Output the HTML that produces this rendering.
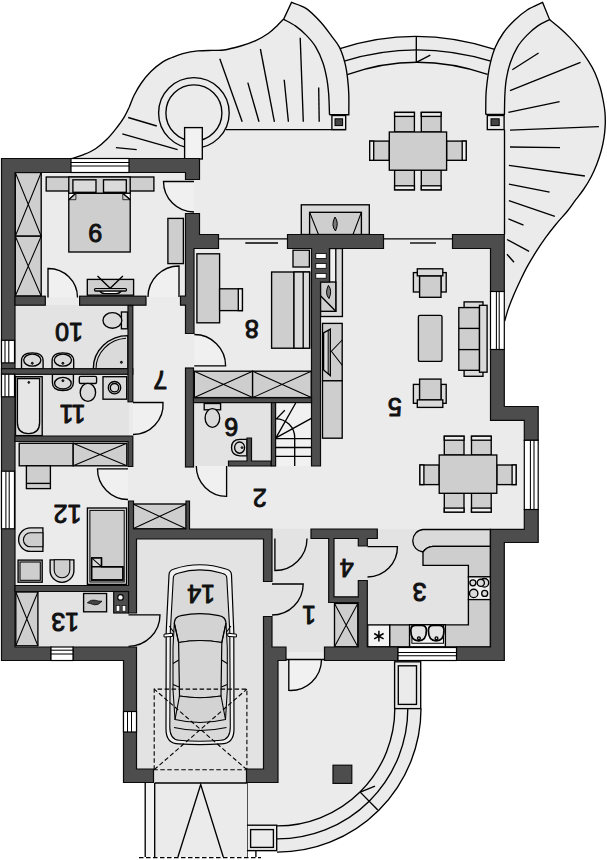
<!DOCTYPE html>
<html><head><meta charset="utf-8"><title>Floor plan</title>
<style>
html,body{margin:0;padding:0;background:#fff;font-family:"Liberation Sans",sans-serif;}
svg{display:block;font-family:"Liberation Sans",sans-serif;}
.w{fill:#4d4d4d;stroke:#0a0a0a;stroke-width:1.2;}
.f{fill:#ebebeb;stroke:none;}
.fo{fill:#ebebeb;stroke:#000;stroke-width:1.35;}
.u{fill:#cecece;stroke:#000;stroke-width:1.35;}
.v{fill:#dadada;stroke:#000;stroke-width:1.35;}
.d{fill:#444;stroke:#000;stroke-width:1;}
.l{fill:none;stroke:#000;stroke-width:1.35;}
.t{fill:none;stroke:#000;stroke-width:1.05;}
.g{fill:none;stroke:#777;stroke-width:0.8;}
.ds{fill:none;stroke:#000;stroke-width:1.1;stroke-dasharray:4.5 2.5;}
.wh{fill:#fff;stroke:#000;stroke-width:1.2;}
.wn{fill:#fff;stroke:none;}
.n{fill:#111;text-anchor:middle;font-family:"Liberation Sans",sans-serif;}

</style></head><body>
<svg width="607" height="860" viewBox="0 0 607 860">
<g id="floors">
<path class="f" d="M8,165 H192 V240 H497 V412 H531 V536 H497 V654 H330 V662 H270 V783 H130 V654 H8 Z"/>
<rect class="f" x="14" y="305" width="115" height="64.5" style="fill:#e3e3e3"/>
<rect class="f" x="14" y="373" width="115" height="64" style="fill:#e3e3e3"/>
<rect class="f" x="193" y="402" width="79" height="64" style="fill:#e3e3e3"/>
<rect class="f" x="14" y="591" width="115" height="57" style="fill:#e3e3e3"/>
<rect class="f" x="128" y="613" width="9" height="35" style="fill:#e3e3e3"/>
<rect class="f" x="136" y="538.5" width="128" height="231.5" style="fill:#e3e3e3"/>
<rect class="f" x="154" y="769" width="93" height="14" style="fill:#e3e3e3"/>
<rect class="f" x="263" y="581" width="10" height="36" style="fill:#e3e3e3"/>
<rect class="f" x="271.5" y="528.8" width="57" height="119.2" style="fill:#e3e3e3"/>
<rect class="f" x="328" y="601" width="31" height="47" style="fill:#e3e3e3"/>
<rect class="f" x="285" y="646" width="40" height="14" style="fill:#e3e3e3"/>
<rect class="f" x="333.5" y="538.5" width="25" height="58.5" style="fill:#e3e3e3"/>
<rect class="f" x="357.5" y="545.5" width="10.5" height="35.5" style="fill:#e3e3e3"/>
<rect class="f" x="366.5" y="529.3" width="124.5" height="118.7" style="fill:#e3e3e3"/>
</g>
<g id="terrace">
<path class="f" d="M72.8,158.2C74.6,157.6 79.9,156.2 83.7,154.6C87.5,153 91.6,151.3 95.6,148.7C99.5,146.1 103.8,142.4 107.4,138.8C111,135.2 114.5,130.6 117.3,127C120.1,123.4 122.2,120.4 124.2,117.1C126.2,113.8 127.5,110.8 129.2,107.2C130.8,103.6 132.1,99.2 134.1,95.3C136.1,91.3 138.2,87.5 141,83.5C143.8,79.5 147.3,75.2 150.9,71.6C154.5,68 159.3,64.2 162.8,61.9C166.3,59.5 168.7,58.9 172,57.5C175.3,56.1 178.5,54.7 182.8,53.6C187.1,52.5 192.9,51.4 197.8,50.9C202.7,50.4 207.6,50.5 212,50.4C216.4,50.2 219.2,50.7 224,50C228.8,49.3 235.4,47.5 240.7,46C246,44.5 251.1,42.8 255.7,40.7C260.3,38.6 264.9,35.7 268.5,33.2C272.1,30.7 274.6,28.1 277.1,25.7C279.6,23.3 282.6,20.1 283.7,19L291.5,2.4C294,3.4 301.5,5.3 306.4,8.6C311.2,11.9 316.4,17.4 320.6,22C324.8,26.6 328.5,31.9 331.6,36.1C334.7,40.3 338.1,45.3 339.4,47.1 L340,48.6 Q416.3,23.8 494.8,49.4 L495.4,47.1 C496.7,44.8 500.2,37.5 503.3,33C506.4,28.6 510.4,24.2 514.3,20.4C518.2,16.6 522.1,13.2 526.8,10.2C531.5,7.2 540,3.7 542.6,2.4L549.6,19.6C551.2,20.9 555.9,24.6 559.2,27.5C562.5,30.4 566,33.6 569.4,37.1C572.8,40.6 576.4,44.6 579.6,48.6C582.8,52.6 586,57.3 588.6,61.4C591.2,65.5 593.1,68.6 595,72.9C596.9,77.2 598.7,82.3 600.1,87C601.5,91.7 602.5,96.7 603.3,101C604.1,105.3 604.7,108.7 605,112.8C605.3,116.9 605.4,121.3 605.2,125.6C605,129.9 604.6,134.1 603.9,138.4C603.2,142.7 602.3,146.9 601.1,151.2C599.9,155.4 598.5,159.7 596.9,163.9C595.2,168.2 593.4,172.4 591.2,176.7C589,181 586.1,185.7 583.5,189.5C580.9,193.3 578.5,196.1 575.8,199.7C573.1,203.3 570.8,206.9 567.5,211C564.2,215.1 559.7,219.7 556,224.2C552.3,228.7 548.7,233.3 545.4,237.8C542.1,242.3 539.3,246.6 536.3,251.4C533.3,256.2 530,261.6 527.2,266.6C524.4,271.7 522,276.9 519.7,281.7C517.4,286.5 515.5,290.8 513.6,295.3C511.7,299.8 509.8,304.6 508.3,308.9C506.8,313.2 505.3,319 504.7,321L490,321 L490,240 L192,240 L192,158.3 Z"/>
<path class="l" d="M72.8,158.2C74.6,157.6 79.9,156.2 83.7,154.6C87.5,153 91.6,151.3 95.6,148.7C99.5,146.1 103.8,142.4 107.4,138.8C111,135.2 114.5,130.6 117.3,127C120.1,123.4 122.2,120.4 124.2,117.1C126.2,113.8 127.5,110.8 129.2,107.2C130.8,103.6 132.1,99.2 134.1,95.3C136.1,91.3 138.2,87.5 141,83.5C143.8,79.5 147.3,75.2 150.9,71.6C154.5,68 159.3,64.2 162.8,61.9C166.3,59.5 168.7,58.9 172,57.5C175.3,56.1 178.5,54.7 182.8,53.6C187.1,52.5 192.9,51.4 197.8,50.9C202.7,50.4 207.6,50.5 212,50.4C216.4,50.2 219.2,50.7 224,50C228.8,49.3 235.4,47.5 240.7,46C246,44.5 251.1,42.8 255.7,40.7C260.3,38.6 264.9,35.7 268.5,33.2C272.1,30.7 274.6,28.1 277.1,25.7C279.6,23.3 282.6,20.1 283.7,19L291.5,2.4C294,3.4 301.5,5.3 306.4,8.6C311.2,11.9 316.4,17.4 320.6,22C324.8,26.6 328.5,31.9 331.6,36.1C334.7,40.3 337.2,42.7 339.4,47.1C341.6,51.5 343.5,57.5 344.9,62.8C346.3,68 347,73.3 347.6,78.6C348.2,83.8 348.6,88.3 348.8,94.3C349,100.3 348.8,111.3 348.8,114.7L329.5,114.7"/>
<path class="l" d="M283.7,19.4C285.6,20.5 291.6,23.2 295.4,25.9C299.2,28.6 303,31.9 306.4,35.4C309.8,38.9 313.1,42.5 315.8,47.1C318.6,51.7 321.1,57.5 322.9,62.8C324.7,68 325.8,73.3 326.8,78.6C327.8,83.8 328.2,88.3 328.7,94.3C329.1,100.3 329.4,111.3 329.5,114.7"/>
<path class="l" d="M485.7,114.4C485.8,111.1 485.7,100.3 486,94.3C486.3,88.3 486.9,83.8 487.6,78.6C488.3,73.3 489.1,68 490.4,62.8C491.7,57.5 493.2,52.1 495.4,47.1C497.5,42.1 500.2,37.5 503.3,33C506.4,28.6 510.4,24.2 514.3,20.4C518.2,16.6 522.1,13.2 526.8,10.2C531.5,7.2 540,3.7 542.6,2.4L549.6,19.6C547.6,20.7 541.6,23.3 537.8,25.9C534,28.5 530.2,31.9 526.8,35.4C523.4,38.9 520.1,42.5 517.4,47.1C514.6,51.7 512.1,57.5 510.3,62.8C508.5,68 507.3,73.3 506.4,78.6C505.5,83.8 505.2,88.3 504.9,94.3C504.6,100.3 504.5,111.1 504.4,114.4L485.7,114.4"/>
<path class="l" d="M549.6,19.6C551.2,20.9 555.9,24.6 559.2,27.5C562.5,30.4 566,33.6 569.4,37.1C572.8,40.6 576.4,44.6 579.6,48.6C582.8,52.6 586,57.3 588.6,61.4C591.2,65.5 593.1,68.6 595,72.9C596.9,77.2 598.7,82.3 600.1,87C601.5,91.7 602.5,96.7 603.3,101C604.1,105.3 604.7,108.7 605,112.8C605.3,116.9 605.4,121.3 605.2,125.6C605,129.9 604.6,134.1 603.9,138.4C603.2,142.7 602.3,146.9 601.1,151.2C599.9,155.4 598.5,159.7 596.9,163.9C595.2,168.2 593.4,172.4 591.2,176.7C589,181 586.1,185.7 583.5,189.5C580.9,193.3 578.5,196.1 575.8,199.7C573.1,203.3 570.8,206.9 567.5,211C564.2,215.1 559.7,219.7 556,224.2C552.3,228.7 548.7,233.3 545.4,237.8C542.1,242.3 539.3,246.6 536.3,251.4C533.3,256.2 530,261.6 527.2,266.6C524.4,271.7 522,276.9 519.7,281.7C517.4,286.5 515.5,290.8 513.6,295.3C511.7,299.8 509.8,304.6 508.3,308.9C506.8,313.2 505.3,319 504.7,321"/>
<path class="l" d="M340,48.6 Q416.3,23.8 494.8,49.4"/>
<path class="l" d="M344.2,61.2 Q416.3,38.6 490.8,61.2"/>
<path class="l" d="M347.2,74.6 Q416.3,49.9 487.6,74.4"/>
<line class="l" x1="416.3" y1="36.4" x2="416.3" y2="62.2"/>
<line class="l" x1="416.8" y1="62.2" x2="430.3" y2="55.2"/>
<rect class="fo" x="331.9" y="115.5" width="13.8" height="14.1"/>
<rect class="fo" x="487.3" y="115.5" width="16.8" height="14.1"/>
<rect class="d" x="335" y="118.8" width="7.6" height="6.8"/>
<rect class="d" x="491" y="118.8" width="8.2" height="6.8"/>
<line class="l" x1="226" y1="129.6" x2="345.7" y2="129.6"/>
<line class="l" x1="504.5" y1="129.6" x2="504.5" y2="234.5"/>
<line class="l" x1="219.8" y1="58.8" x2="242.2" y2="121.8"/>
<line class="l" x1="247.8" y1="82.6" x2="259" y2="121.8"/>
<line class="l" x1="260.4" y1="49" x2="274.4" y2="121.8"/>
<line class="l" x1="284.2" y1="79.8" x2="288.4" y2="121.8"/>
<line class="l" x1="300.2" y1="37.8" x2="303.3" y2="121.8"/>
<line class="l" x1="318.7" y1="87.4" x2="319.2" y2="121.8"/>
<line class="l" x1="128.2" y1="117.5" x2="156.8" y2="126"/>
<line class="l" x1="122.3" y1="133.9" x2="177.6" y2="149.7"/>
<line class="l" x1="115.9" y1="147.7" x2="136.7" y2="149.7"/>
<line class="l" x1="512.3" y1="69.8" x2="538.6" y2="53"/>
<line class="l" x1="510" y1="90.7" x2="580.5" y2="62.3"/>
<line class="l" x1="508.4" y1="112.3" x2="559.6" y2="101.6"/>
<line class="l" x1="510" y1="130.2" x2="598.9" y2="126.7"/>
<line class="l" x1="510" y1="147" x2="560" y2="147.7"/>
<line class="l" x1="508.9" y1="165.4" x2="584.9" y2="176"/>
<line class="l" x1="508.9" y1="184.1" x2="549.6" y2="192.2"/>
<line class="l" x1="508.9" y1="200.7" x2="554.9" y2="216.3"/>
<line class="l" x1="508.4" y1="218.8" x2="523.5" y2="225.1"/>
<line class="l" x1="507" y1="239.5" x2="529.1" y2="251.4"/>
<line class="l" x1="507" y1="254.2" x2="514" y2="262.3"/>
<circle class="l" cx="193.9" cy="112.9" r="35.3"/>
<circle class="l" cx="193.9" cy="112.9" r="28"/>
<rect class="fo" x="184.6" y="127.6" width="17.7" height="31.4" style="fill:#f2f2f2"/>
</g>
<g id="porch">
<path class="f" d="M278,652 H420.7 V708.6 A143.5,143.5 0 0 1 277.5,852.1 H247 V783 H278 Z"/>
<path class="l" d="M394.8,708.6 A117.3,117.3 0 0 1 277,825.9"/>
<path class="l" d="M407.8,708.6 A130.3,130.3 0 0 1 277,838.9"/>
<path class="l" d="M421,708.6 A143.5,143.5 0 0 1 277,852.1"/>
<rect class="fo" x="394.6" y="661.8" width="26.1" height="46.8"/>
<rect class="fo" x="398.3" y="665.8" width="18.2" height="38.6"/>
<line class="l" x1="360.2" y1="792.1" x2="377.8" y2="810"/>
<line class="l" x1="360.2" y1="792.1" x2="375" y2="786.2"/>
<rect class="w" x="333" y="765.2" width="18.8" height="18.2"/>
<path class="f" d="M288.8,660 V690.4 A31,31 0 0 0 321.5,660" style="fill:#f1f1f1"/>
<path class="l" d="M288.8,660 V690.4 A31,31 0 0 0 321.5,660"/>
<line class="l" x1="286" y1="659.5" x2="324.5" y2="659.5"/>
<line class="l" x1="247" y1="783" x2="247" y2="857"/>
<rect class="fo" x="247" y="825.2" width="29.7" height="25.4"/>
<rect class="fo" x="250.6" y="829.6" width="22.8" height="17.8"/>
<line class="l" x1="255.9" y1="850.6" x2="255.9" y2="857"/>
</g>
<g id="drive">
<rect class="f" x="145.2" y="783" width="9.5" height="74" style="fill:#f3f3f3"/>
<rect class="f" x="154.7" y="783" width="92.3" height="74"/>
<line class="l" x1="145.2" y1="783" x2="145.2" y2="857"/>
<line class="l" x1="154.7" y1="783" x2="154.7" y2="857"/>
<line class="l" x1="154.7" y1="783" x2="247" y2="783"/>
<path class="l" d="M177.9,857 L200.7,784.5 L223.3,857"/>
<path class="ds" d="M139,857.6 H261"/>
<path class="u" d="M169,575 Q169,570.5 174,569 Q199.8,560.5 226,569 Q231.5,570.5 231.5,575 L233.8,632 L234,729 Q234,743.9 221,743.9 Q199.8,745.5 179,743.9 Q166,743.9 166,729 L166.2,632 Z" style="fill:#f0f0f0;stroke-width:1.2"/>
<path class="u" d="M173.3,578 Q173.3,574.5 178,573.3 Q199.8,566.5 222,573.3 Q226.8,574.5 226.8,578 L229.8,632 L230.3,727 Q230.3,739.5 221,740.3 Q199.8,742.3 179,740.3 Q169.8,739.5 169.8,727 L170.3,632 Z" style="fill:#d9d9d9;stroke-width:1.1"/>
<path class="u" d="M174.3,623 Q174.6,616.6 181,615.6 Q199.8,611.6 219,615.6 Q225.6,616.6 226,623 L221.8,642.5 Q199.8,638.5 178.6,642.5 Z" style="fill:#d3d3d3;stroke-width:1.2"/>
<path class="u" d="M178.6,642.5 Q199.8,638.5 221.8,642.5 L221,696 Q199.8,699.5 179.5,696 Z" style="fill:#d6d6d6;stroke-width:1.2"/>
<path class="u" d="M179.5,696 Q199.8,699.5 221,696 L225.5,719.5 Q199.8,725.5 175,719.5 Z" style="fill:#d3d3d3;stroke-width:1.1"/>
<path class="t" d="M174,727.5 Q199.8,733.5 226.5,727.5"/>
<path class="t" d="M174.3,623 L178.6,642.5 M226,623 L221.8,642.5 M175,719.5 L173,690 L173,648 L174.3,623 M225.5,719.5 L227.3,690 L227.3,648 L226,623"/>
<path class="t" d="M173,663.5 L178.8,660 M227.3,663.5 L221.6,660 M173,684.5 L179,687 M227.3,684.5 L221.3,687"/>
<path class="t" d="M169.3,626 L173.6,632 M230.9,626 L226.6,632"/>
<path class="wh" d="M172.5,633.2 L164,634.2 L164,637 L172.5,636.4 Z M227.8,633.2 L236.4,634.2 L236.4,637 L227.8,636.4 Z" style="stroke-width:1"/>
<path class="ds" d="M154.2,769.7 V689.1 H246.9 V769.7 Z"/>
<path class="ds" d="M154.2,769.7 L246.9,689.1 M246.9,769.7 L154.2,689.1"/>
</g>
<g id="furn">
<rect class="u" x="15.3" y="172.5" width="25.9" height="63.7"/>
<path class="t" d="M15.3,172.5 L41.2,236.2 M41.2,172.5 L15.3,236.2"/>
<rect class="u" x="15.3" y="236.2" width="25.9" height="59.8"/>
<path class="t" d="M15.3,236.2 L41.2,296 M41.2,236.2 L15.3,296"/>
<rect class="u" x="46.2" y="177" width="107.7" height="14"/>
<rect class="u" x="68.8" y="191" width="61.4" height="61"/>
<path class="wh" d="M68.8,193.2 H130.2 V199.7 L122.8,193.2 H75.9 L68.8,199.7 Z" style="stroke-width:0.8"/>
<path class="u" d="M68.8,199.7 L75.9,193.2 V199.7 Z M130.2,199.7 L122.8,193.2 V199.7 Z" style="stroke-width:0.8"/>
<path class="l" d="M68.8,199.7 L75.9,193.2 H122.8 L130.2,199.7"/>
<rect class="u" x="68.8" y="177" width="61.4" height="16.2"/>
<rect class="v" x="72.9" y="179.8" width="23.1" height="12.5"/>
<rect class="v" x="103.5" y="179.8" width="22.8" height="12.5"/>
<rect class="u" x="167.9" y="218.4" width="15.5" height="45.2"/>
<rect class="u" x="87.3" y="279.4" width="46.3" height="15.8"/>
<path class="l" d="M97.5,276 L110.2,288.3 L122.9,276"/>
<path class="wh" d="M95.5,288.6 H125.5 Q126.5,288.6 126.5,289.8 Q126.5,291 125.5,291 H121.5 Q119.5,293.6 116,293.6 H105 Q101.5,293.6 99.5,291 H95.5 Q94.5,291 94.5,289.8 Q94.5,288.6 95.5,288.6 Z M99.5,291 H121.5" style="stroke-width:1.3"/>
<path class="f" d="M48,297.5 L48,268.5 A29,29 0 0 1 77.5,297.5 Z" style="fill:#f0f0f0"/>
<path class="l" d="M48,297.5 L48,268.5 A29,29 0 0 1 77.5,297.5"/>
<path class="f" d="M179,297 L179,266 A31,31 0 0 0 148,297 Z" style="fill:#f0f0f0"/>
<path class="l" d="M179,297 L179,266 A31,31 0 0 0 148,297"/>
<path class="f" d="M194,181.5 L163.5,181.5 A30.5,30.5 0 0 0 194,212 Z" style="fill:#f0f0f0"/>
<path class="l" d="M194,181.5 L163.5,181.5 A30.5,30.5 0 0 0 194,212"/>
<rect class="v" x="121.4" y="312" width="6.1" height="16.8"/>
<ellipse class="v" cx="112.4" cy="320.4" rx="9.4" ry="7.8"/>
<path class="v" d="M93.3,368.7 A34.6,33 0 0 1 127.9,335.6 V368.7 Z"/>
<path class="t" d="M96,368.7 A32,30.5 0 0 1 126,338.2"/>
<circle class="d" cx="121.4" cy="362.3" r="1"/>
<path class="v" d="M21.5,368.9 V360.9 Q21.5,352.9 32.3,352.9 Q43.1,352.9 43.1,360.9 V368.9 Z"/>
<ellipse class="l" cx="32.3" cy="360.1" rx="8.6" ry="6"/>
<circle class="d" cx="32.3" cy="363.3" r="1"/>
<path class="v" d="M52.1,368.9 V360.9 Q52.1,352.9 62.9,352.9 Q73.7,352.9 73.7,360.9 V368.9 Z"/>
<ellipse class="l" cx="62.9" cy="360.1" rx="8.6" ry="6"/>
<circle class="d" cx="62.9" cy="363.3" r="1"/>
<path class="v" d="M52.4,374.2 V382.5 Q52.4,390.5 62.9,390.5 Q73.4,390.5 73.4,382.5 V374.2 Z"/>
<ellipse class="l" cx="62.9" cy="383.2" rx="8.3" ry="5.8"/>
<circle class="d" cx="62.9" cy="380.7" r="1"/>
<rect class="v" x="79.3" y="376.4" width="17.3" height="7.1" rx="1.5"/>
<ellipse class="v" cx="87.9" cy="392.4" rx="7.7" ry="9"/>
<rect class="v" x="103" y="376.7" width="23.7" height="22.5"/>
<circle class="v" cx="114.5" cy="387.7" r="6.2"/>
<circle class="l" cx="114.5" cy="387.7" r="4.2"/>
<rect class="v" x="15.5" y="376.7" width="26.7" height="58.9"/>
<path class="v" d="M17.4,378.5 H39.6 V422.5 Q39.6,433.6 28.5,433.6 Q17.4,433.6 17.4,422.5 Z" style="fill:#e6e6e6"/>
<circle class="d" cx="28.8" cy="382.4" r="0.9"/>
<path class="f" d="M133,402.5 L163,402.5 A30,30 0 0 1 133,434.5 Z" style="fill:#f0f0f0"/>
<path class="l" d="M133,402.5 L163,402.5 A30,30 0 0 1 133,434.5"/>
<rect class="u" x="19.2" y="443.3" width="54" height="22.5"/>
<rect class="u" x="73.2" y="443.3" width="53.6" height="22.5"/>
<path class="t" d="M73.2,443.3 L126.8,465.8 M126.8,443.3 L73.2,465.8"/>
<rect class="u" x="26.4" y="465.8" width="24" height="22.8"/>
<line class="l" x1="26.4" y1="483.4" x2="50.4" y2="483.4"/>
<path class="f" d="M128,468.8 L97.5,468.8 A30.5,30.5 0 0 0 128,499.5 Z" style="fill:#f0f0f0"/>
<path class="l" d="M128,468.8 L97.5,468.8 A30.5,30.5 0 0 0 128,499.5"/>
<rect class="u" x="133" y="504" width="53.2" height="24.8"/>
<path class="t" d="M133,504 L186.2,528.8 M186.2,504 L133,528.8"/>
<rect class="v" x="87.4" y="508" width="39.2" height="76.4"/>
<rect class="u" x="89.9" y="510.4" width="34.3" height="71.6" style="stroke-width:1"/>
<path class="v" d="M91.6,566.7 H101.5 V557.8 H91.6 Z"/>
<line class="t" x1="91.6" y1="557.8" x2="101.5" y2="566.7"/>
<path class="u" d="M91.6,566.7 H122.9 V580 H91.6 Z"/>
<path class="l" d="M101.5,566.7 V557.8 H91.6 V580 H122.9 V566.7 Z"/>
<path class="v" d="M42.9,527.8 H30.4 A11.8,11.8 0 0 0 30.4,551.4 H42.9 Z"/>
<path class="u" d="M42.9,532.8 H30.4 A7,7 0 0 0 30.4,546.8 H42.9 Z" style="stroke-width:1.1"/>
<rect class="u" x="18.1" y="560.1" width="24.1" height="22.1"/>
<rect class="t" x="20" y="562" width="20.3" height="18.3"/>
<path class="v" d="M50.1,559.8 H73.9 V570.4 A11.9,11.9 0 0 1 50.1,570.4 Z"/>
<path class="u" d="M54.2,559.8 H69.8 V570 A7.8,7.8 0 0 1 54.2,570 Z" style="stroke-width:1.1"/>
<rect class="u" x="15.8" y="592" width="22.1" height="53.8"/>
<path class="t" d="M15.8,592 L37.9,645.8 M37.9,592 L15.8,645.8"/>
<rect class="u" x="83.6" y="593.5" width="23" height="18.3"/>
<path class="d" d="M87.3,602.8 Q91,599 95,600.2 Q99,601.4 102,601.2 Q98,605.8 94.3,604.8 Q90.5,603.6 87.3,602.8 Z" style="stroke-width:0.7"/>
<path class="l" d="M128.5,614.8 L160,614.8 A31.5,31.5 0 0 1 128.5,646.3"/>
<rect class="u" x="196.9" y="253.8" width="22.7" height="69"/>
<rect class="u" x="219.6" y="288.8" width="22.8" height="21.8"/>
<rect class="v" x="238.3" y="288.8" width="4.1" height="21.8" style="fill:#eee"/>
<rect class="u" x="293" y="250.2" width="16.4" height="16.8"/>
<rect class="u" x="271.6" y="272" width="38" height="76.2"/>
<line class="l" x1="294" y1="272" x2="294" y2="348.2"/>
<line class="l" x1="303.2" y1="272" x2="303.2" y2="348.2"/>
<rect class="v" x="294" y="272" width="15.6" height="76.2"/>
<line class="l" x1="303.2" y1="272" x2="303.2" y2="348.2"/>
<rect class="u" x="194.3" y="371.2" width="58.3" height="26.4"/>
<path class="t" d="M194.3,371.2 L252.6,397.6 M252.6,371.2 L194.3,397.6"/>
<rect class="u" x="252.6" y="371.2" width="58.7" height="26.4"/>
<path class="t" d="M252.6,371.2 L311.3,397.6 M311.3,371.2 L252.6,397.6"/>
<path class="f" d="M194.3,365.8 L225.6,365.8 A31.3,31.3 0 0 0 194.3,334.5 Z" style="fill:#f0f0f0"/>
<path class="l" d="M194.3,365.8 L225.6,365.8 A31.3,31.3 0 0 0 194.3,334.5"/>
<line class="l" x1="218.6" y1="238.8" x2="287.5" y2="238.8"/>
<line class="l" x1="245.3" y1="243" x2="278" y2="243"/>
<line class="l" x1="383.5" y1="238.8" x2="452.5" y2="238.8"/>
<line class="l" x1="410" y1="243" x2="436" y2="243"/>
<rect class="v" x="204.2" y="403.5" width="16.4" height="6.3"/>
<ellipse class="v" cx="212.4" cy="418" rx="7.3" ry="9.4"/>
<path class="v" d="M247,439.3 H240 Q231.5,439.3 231.5,447.6 Q231.5,455.8 240,455.8 H247 Z"/>
<ellipse class="l" cx="239.6" cy="447.6" rx="5" ry="5.6"/>
<circle class="d" cx="242" cy="447.6" r="0.9"/>
<path class="f" d="M226.6,466 L226.6,496.4 A30.4,30.4 0 0 1 196.3,466 Z" style="fill:#f0f0f0"/>
<path class="l" d="M226.6,466 L226.6,496.4 A30.4,30.4 0 0 1 196.3,466"/>
<rect class="f" x="275.5" y="402.5" width="36" height="63.5" style="fill:#f1f1f1"/>
<line class="l" x1="275.5" y1="438.6" x2="311.5" y2="438.6"/>
<line class="l" x1="275.5" y1="447.5" x2="311.5" y2="447.5"/>
<line class="l" x1="275.5" y1="456.4" x2="311.5" y2="456.4"/>
<path class="l" d="M275.9,437.8 L295.7,403 M275.9,437.8 L311.3,418.3 M276.6,418.6 L284.8,410.3 M275.9,418.8 A18.8,18.8 0 0 1 294.7,437.6 V466"/>
<rect class="v" x="301.3" y="204.8" width="68" height="29.7"/>
<rect class="u" x="309.6" y="212.3" width="51.8" height="22.2"/>
<path class="t" d="M309.6,212.3 L318.5,234.5 M361.4,212.3 L353,234.5"/>
<path class="d" d="M334.9,217 Q339.3,222.5 335.5,231 Q330.7,225.5 334.9,217 Z" style="fill:#7a7a7a;stroke-width:1"/>
<rect class="v" x="320.5" y="248.5" width="21.9" height="68"/>
<rect class="v" x="329.5" y="248.5" width="6.3" height="62.8" style="fill:#f0f0f0"/>
<rect class="u" x="320.5" y="282" width="15.3" height="29.3"/>
<line class="l" x1="320.5" y1="295.8" x2="335.8" y2="311.3"/>
<path class="d" d="M328.4,285.4 Q332.6,290.6 329,298.6 Q324.4,293.4 328.4,285.4 Z" style="fill:#7a7a7a;stroke-width:1"/>
<rect class="u" x="322.5" y="323.4" width="19.7" height="57.4"/>
<rect class="u" x="322.5" y="380.8" width="19.7" height="57.4"/>
<path class="v" d="M323.6,332.8 L330.3,329.2 V375.6 L323.6,370 Z"/>
<line class="t" x1="328.2" y1="330.4" x2="328.2" y2="373.8"/>
<path class="t" d="M342.2,340 L331.4,351.2 L342.2,365.2"/>
<rect class="v" x="413.4" y="272.6" width="6.2" height="19.4"/>
<rect class="v" x="441" y="272.6" width="5.2" height="19.4"/>
<rect class="u" x="419.6" y="275.8" width="21.4" height="21.5"/>
<rect class="v" x="417.3" y="268.8" width="25.5" height="7"/>
<rect class="v" x="413.4" y="384.4" width="6.2" height="18.9"/>
<rect class="v" x="441" y="384.4" width="5.2" height="18.9"/>
<rect class="u" x="419.6" y="379.1" width="21.4" height="20.8"/>
<rect class="v" x="417.3" y="399.9" width="25.5" height="7.5"/>
<rect class="u" x="418.4" y="315.3" width="23.6" height="46.1" rx="1.5"/>
<rect class="v" x="464.1" y="301.9" width="18.9" height="5.7"/>
<rect class="v" x="464.1" y="370.3" width="18.9" height="6"/>
<rect class="u" x="458.8" y="307.6" width="20.7" height="62.7"/>
<line class="l" x1="458.8" y1="328.4" x2="479.5" y2="328.4"/>
<line class="l" x1="458.8" y1="349.6" x2="479.5" y2="349.6"/>
<rect class="v" x="479.5" y="305.3" width="7.6" height="66.9"/>
<rect class="u" x="444.3" y="436.2" width="19.7" height="18.8"/>
<rect class="v" x="444.3" y="436.2" width="19.7" height="4" style="fill:#eee"/>
<rect class="u" x="444.3" y="493.3" width="19.7" height="18.8"/>
<rect class="v" x="444.3" y="508.1" width="19.7" height="4" style="fill:#eee"/>
<rect class="u" x="471.5" y="436.2" width="19.7" height="18.8"/>
<rect class="v" x="471.5" y="436.2" width="19.7" height="4" style="fill:#eee"/>
<rect class="u" x="471.5" y="493.3" width="19.7" height="18.8"/>
<rect class="v" x="471.5" y="508.1" width="19.7" height="4" style="fill:#eee"/>
<rect class="u" x="419.9" y="465" width="19.3" height="19.6"/>
<rect class="v" x="419.9" y="465" width="4" height="19.6" style="fill:#eee"/>
<rect class="u" x="496.8" y="465" width="19.3" height="19.6"/>
<rect class="v" x="512.1" y="465" width="4" height="19.6" style="fill:#eee"/>
<rect class="u" x="439.2" y="455" width="57.6" height="38.3"/>
<rect class="u" x="394.6" y="112.4" width="19.8" height="19.6"/>
<rect class="v" x="394.6" y="112.4" width="19.8" height="4" style="fill:#eee"/>
<rect class="u" x="394.6" y="170.2" width="19.8" height="19.6"/>
<rect class="v" x="394.6" y="185.8" width="19.8" height="4" style="fill:#eee"/>
<rect class="u" x="421.3" y="112.4" width="19.8" height="19.6"/>
<rect class="v" x="421.3" y="112.4" width="19.8" height="4" style="fill:#eee"/>
<rect class="u" x="421.3" y="170.2" width="19.8" height="19.6"/>
<rect class="v" x="421.3" y="185.8" width="19.8" height="4" style="fill:#eee"/>
<rect class="u" x="369.7" y="141.1" width="19.6" height="19.2"/>
<rect class="v" x="369.7" y="141.1" width="4" height="19.2" style="fill:#eee"/>
<rect class="u" x="446.6" y="141.1" width="19.6" height="19.2"/>
<rect class="v" x="462.2" y="141.1" width="4" height="19.2" style="fill:#eee"/>
<rect class="u" x="389.3" y="132" width="57.3" height="38.2"/>
<path class="v" d="M490.4,529.5 H423 A11.3,11.3 0 0 0 423,552 Q426.5,546.8 433,546.4 H490.4 Z"/>
<path class="u" d="M423,552 V565.3 H468.4 V576.8 H490.4 V546.4 H433 Q426.5,546.8 423,552 Z"/>
<rect class="v" x="468.4" y="576.8" width="22" height="22.8" style="fill:#efefef"/>
<circle class="v" cx="472.9" cy="582.8" r="3"/>
<circle class="v" cx="484.4" cy="582.8" r="4.3"/>
<circle class="v" cx="480.8" cy="582.8" r="3.6"/>
<circle class="v" cx="473.7" cy="593.4" r="4.2"/>
<circle class="v" cx="484.7" cy="593.4" r="3"/>
<path class="u" d="M468.4,599.6 H490.4 V646.8 H444.7 V624.9 H468.4 Z"/>
<rect class="v" x="367.7" y="624.9" width="22.1" height="21.9" style="fill:#f3f3f3"/>
<rect class="u" x="389.8" y="624.9" width="19.8" height="21.9"/>
<rect class="v" x="409.6" y="624.7" width="35.8" height="22.1" style="fill:#f3f3f3"/>
<path class="t" d="M411.9,624.7 V643.3 H443.5 V624.7"/>
<path class="v" d="M410.8,630.5 Q410.8,625.4 415.6,625.4 H421.6 Q426.4,625.4 426.4,630.5 Q426.4,640.8 418.6,640.8 Q410.8,640.8 410.8,630.5 Z" style="fill:#e4e4e4;stroke-width:1.7"/>
<circle class="l" cx="418.9" cy="638.3" r="1.4"/>
<path class="v" d="M428.4,630.5 Q428.4,625.4 433.2,625.4 H439.2 Q444,625.4 444,630.5 Q444,640.8 436.2,640.8 Q428.4,640.8 428.4,630.5 Z" style="fill:#e4e4e4;stroke-width:1.7"/>
<circle class="l" cx="436.5" cy="638.3" r="1.4"/>
<path class="l" d="M378.9,630.8 V641.6 M374.2,633.5 L383.6,638.9 M374.2,638.9 L383.6,633.5" style="stroke-width:1.5"/>
<rect class="u" x="334.5" y="603.4" width="23.3" height="43.4"/>
<path class="t" d="M334.5,603.4 L357.8,646.8 M357.8,603.4 L334.5,646.8"/>
<path class="l" d="M274.9,538.5 L274.9,570.5 A32,32 0 0 0 307,538.5"/>
<path class="l" d="M272,584 L303.2,584 A31.2,31.2 0 0 1 272,615"/>
<path class="l" d="M367.5,546.6 L397.4,546.6 A29.9,29.9 0 0 1 367.5,577"/>
</g>
<g id="walls">
<path class="w" d="M1.5,158.5 H199.5 V179.5 H185.5 V172.5 H15 V647 H51 V660.5 H1.5 Z"/>
<path class="w" d="M73,647 H136.5 V769 H153.5 V782.5 H123.5 V660.5 H73 Z"/>
<path class="w" d="M185.5,213.5 H199.5 V234.5 H218.5 V248.5 H194 V333.5 H185.5 V305.2 H180.5 V296.2 H185.5 Z"/>
<path class="w" d="M287.5,234.5 H383.5 V248.5 H329.5 V282 H320.5 V466 H311.5 V248.5 H287.5 Z"/>
<path class="w" d="M452.5,234.5 H504.3 V291.5 H490.5 V248.5 H452.5 Z"/>
<path class="w" d="M490.5,349.5 H504.3 V406.5 H538.2 V440.3 H524.3 V420.3 H490.5 Z"/>
<path class="w" d="M524.3,509.5 H538.2 V542.5 H504.3 V660.5 H456.5 V647 H490.5 V529.3 H524.3 Z"/>
<rect class="w" x="15" y="296.2" width="30.3" height="9"/>
<rect class="w" x="79.6" y="296.2" width="66.4" height="9"/>
<rect class="w" x="1.5" y="368.7" width="131.3" height="5.6"/>
<rect class="w" x="128" y="305.5" width="4.8" height="96.3"/>
<path class="w" d="M15,436 H132.8 V466.5 H128 V441.5 H15 Z"/>
<rect class="w" x="185.5" y="368" width="8" height="99"/>
<rect class="w" x="193.5" y="397.8" width="118" height="4.8"/>
<rect class="w" x="271.4" y="402.6" width="4.2" height="63.4"/>
<path class="w" d="M228.5,461 H247 V438 H251.5 V461 H271 V466 H228.5 Z"/>
<path class="w" d="M128.5,501 H133.5 V529 H186 V501 H189.5 V529 H272 V581.5 H263.5 V539 H136.5 V613 H128.5 V591.5 H15 V585.5 H128.5 Z"/>
<path class="w" d="M263.5,616.5 H272 V647 H286 V660.5 H278 V782.5 H246.5 V769 H263.5 Z"/>
<path class="w" d="M311,529 H377.3 V538.5 H367.3 V546 H358.3 V538.5 H334 V596.8 H358.3 V580.5 H367.3 V647 H398 V660.5 H324.5 V647 H358.3 V602.5 H328.7 V538.5 H311 Z"/>
<rect class="wh" x="315.8" y="253.6" width="10.4" height="4.8" style="stroke-width:0.8"/>
<rect class="wh" x="315.8" y="263.5" width="10.4" height="4.8" style="stroke-width:0.8"/>
<rect class="wh" x="315.8" y="273.4" width="10.4" height="4.8" style="stroke-width:0.8"/>
<rect class="w" x="113.7" y="591.5" width="14.8" height="21.5"/>
<circle class="wh" cx="120.5" cy="597.4" r="2.8"/>
<rect class="wh" x="116.2" y="605.6" width="3.6" height="5.6" style="stroke-width:0.6"/>
<rect class="wh" x="122.2" y="605.6" width="3.6" height="5.6" style="stroke-width:0.6"/>
</g>
<g id="top">
<rect class="wh" x="1.5" y="340.3" width="13" height="22.6"/>
<line class="t" x1="5" y1="340.3" x2="5" y2="362.9"/>
<line class="t" x1="8.8" y1="340.3" x2="8.8" y2="362.9"/>
<rect class="wh" x="1.5" y="374.2" width="13" height="22.6"/>
<line class="t" x1="5" y1="374.2" x2="5" y2="396.8"/>
<line class="t" x1="8.8" y1="374.2" x2="8.8" y2="396.8"/>
<rect class="wh" x="1.5" y="471.2" width="13" height="57.6"/>
<line class="t" x1="5.9" y1="471.2" x2="5.9" y2="528.8"/>
<line class="t" x1="9.2" y1="471.2" x2="9.2" y2="528.8"/>
<rect class="wh" x="71" y="158.5" width="58" height="14"/>
<line class="t" x1="71" y1="162.5" x2="129" y2="162.5"/>
<line class="t" x1="71" y1="166" x2="129" y2="166"/>
<rect class="wh" x="51" y="647" width="22" height="13.5"/>
<line class="t" x1="51" y1="650.2" x2="73" y2="650.2"/>
<line class="t" x1="51" y1="654" x2="73" y2="654"/>
<rect class="wh" x="123.5" y="711.5" width="13" height="20.5"/>
<line class="t" x1="127.5" y1="711.5" x2="127.5" y2="732"/>
<line class="t" x1="131.5" y1="711.5" x2="131.5" y2="732"/>
<rect class="wh" x="490.5" y="291.5" width="13.8" height="58"/>
<line class="t" x1="496.4" y1="291.5" x2="496.4" y2="349.5"/>
<line class="t" x1="499.2" y1="291.5" x2="499.2" y2="349.5"/>
<rect class="wh" x="524.3" y="440.3" width="13.9" height="69.2"/>
<line class="t" x1="530.4" y1="440.3" x2="530.4" y2="509.5"/>
<line class="t" x1="534" y1="440.3" x2="534" y2="509.5"/>
<rect class="wh" x="398" y="647.5" width="58.5" height="13"/>
<line class="t" x1="398" y1="652.5" x2="456.5" y2="652.5"/>
<line class="t" x1="398" y1="655.8" x2="456.5" y2="655.8"/>
</g>
<g id="labels" stroke="#111" stroke-width="1" stroke-linejoin="round" font-size="25">
<text class="n" x="0" y="8.6" transform="translate(95.2 232.7) rotate(180)">9</text>
<text class="n" x="0" y="8.6" transform="translate(69.1 331.8) rotate(180)">10</text>
<text class="n" x="0" y="8.6" transform="translate(72.6 414.1) rotate(180)">11</text>
<text class="n" x="0" y="8.6" transform="translate(67.5 514) rotate(180)">12</text>
<text class="n" x="0" y="8.6" transform="translate(65.2 622.1) rotate(180)">13</text>
<text class="n" x="0" y="8.6" transform="translate(201.2 593.8) rotate(180)">14</text>
<text class="n" x="0" y="8.6" transform="translate(251.8 328.8) rotate(180)">8</text>
<text class="n" x="0" y="8.6" transform="translate(160.3 379.4) rotate(180)">7</text>
<text class="n" x="0" y="8.6" transform="translate(231.4 426.6) rotate(180)">6</text>
<text class="n" x="0" y="8.6" transform="translate(259.9 497.9) rotate(180)">2</text>
<text class="n" x="0" y="8.6" transform="translate(394.7 406.7) rotate(180)">5</text>
<text class="n" x="0" y="8.6" transform="translate(309.1 614.4) rotate(180)">1</text>
<text class="n" x="0" y="8.6" transform="translate(346.7 568) rotate(180)">4</text>
<text class="n" x="0" y="8.6" transform="translate(419.6 591.2) rotate(180)">3</text>
</g>
</svg>
</body></html>
